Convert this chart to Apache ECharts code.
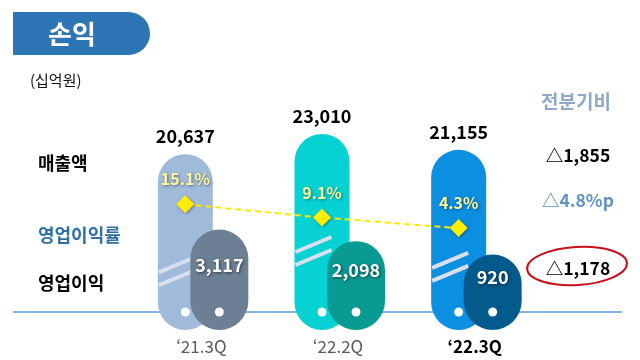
<!DOCTYPE html>
<html><head><meta charset="utf-8">
<script src="https://cdn.jsdelivr.net/npm/echarts@6/dist/echarts.min.js"></script>
<style>html,body{margin:0;padding:0;background:#fff}#c{width:640px;height:360px}</style>
</head><body><div id="c"></div>
<script>
const categories = ['‘21.3Q', '‘22.2Q', '‘22.3Q'];
const sales = [20637, 23010, 21155];
const opProfit = [3117, 2098, 920];
const opMargin = [15.1, 9.1, 4.3];
const rowLabels = ['매출액', '영업이익률', '영업이익'];
const qoqTitle = '전분기비';
const qoqValues = ['△1,855', '△4.8%p', '△1,178'];
const unitLabel = '(십억원)';
const titleText = '손익';

const salesColors = ['#A0BBDA', '#07D2D3', '#0C8FE0'];
const opColors = ['#6C7F94', '#0A9A94', '#045A8D'];
const FONT = '"Noto Sans CJK KR", "Noto Sans", sans-serif';
const fmt = v => v.toLocaleString('en-US');

const chart = echarts.init(document.getElementById('c'));

function breakMarks(x0, yc) {
  const len = 36, items = [];
  [-6.5, 6.5].forEach(d => {
    items.push({type: 'line', shape: {x1: x0, y1: yc + d + 7.5, x2: x0 + len, y2: yc + d - 7.5},
      style: {stroke: '#D9DFEE', lineWidth: 4}});
  });
  return items;
}

function salesItem(params, api) {
  const i = api.value(0);
  const c = api.coord([i, api.value(1)]);
  const cs = params.coordSys;
  const bottom = cs.y + cs.height;
  const w = 55, cx = c[0] - 16, top = c[1];
  return {type: 'group', children: [
    {type: 'rect', shape: {x: cx - w / 2, y: top, width: w, height: bottom - top, r: w / 2},
      style: {fill: salesColors[i]}},
    ...breakMarks(cx - w / 2 + 1, top + 117),
    {type: 'circle', shape: {cx: cx, cy: bottom - 18, r: 4.5}, style: {fill: '#fff'}},
    {type: 'text', style: {x: cx, y: top - 18, text: fmt(api.value(1)), align: 'center', verticalAlign: 'middle',
      font: 'bold 18px ' + FONT, fill: '#000'}}
  ]};
}

function opItem(params, api) {
  const i = api.value(0);
  const c = api.coord([i, api.value(1)]);
  const cs = params.coordSys;
  const bottom = cs.y + cs.height;
  const w = 58, cx = c[0] + 18, top = c[1];
  return {type: 'group', children: [
    {type: 'rect', shape: {x: cx - w / 2, y: top, width: w, height: bottom - top, r: w / 2},
      style: {fill: opColors[i]}},
    {type: 'circle', shape: {cx: cx, cy: bottom - 18, r: 4.5}, style: {fill: '#fff'}},
    {type: 'text', style: {x: cx, y: (top + 300) / 2, text: fmt(api.value(1)), align: 'center', verticalAlign: 'middle',
      font: 'bold 18px ' + FONT, fill: '#fff', textShadowColor: 'rgba(0,0,0,0.55)', textShadowBlur: 3, textShadowOffsetX: 1, textShadowOffsetY: 1}}
  ]};
}

const option = {
  animation: false,
  grid: [
    {left: 133, width: 410, top: 60, bottom: 30},
    {left: 117, width: 410, top: 60, bottom: 30}
  ],
  xAxis: [
    {type: 'category', gridIndex: 0, data: categories, axisLine: {show: false}, axisTick: {show: false},
      axisLabel: {margin: 8, formatter: (v, i) => i === 2 ? '{b|' + v + '}' : '{n|' + v + '}',
        rich: {n: {fontFamily: FONT, fontSize: 17, color: '#595959'}, b: {fontFamily: FONT, fontSize: 17, fontWeight: 'bold', color: '#000'}}}},
    {type: 'category', gridIndex: 1, data: categories, show: false}
  ],
  yAxis: [
    {type: 'value', gridIndex: 0, min: 0, max: 31700, show: false},
    {type: 'value', gridIndex: 0, min: -5700, max: 18000, show: false},
    {type: 'value', gridIndex: 1, min: -42, max: 80.7, show: false}
  ],
  graphic: [
    {type: 'rect', shape: {x: 13, y: 12, width: 137, height: 43, r: [0, 22, 22, 0]}, style: {fill: '#2E75B6'}},
    {type: 'text', style: {x: 72, y: 34, text: titleText, align: 'center', verticalAlign: 'middle', font: 'bold 26px ' + FONT, fill: '#fff'}},
    {type: 'text', style: {x: 30, y: 80, text: unitLabel, verticalAlign: 'middle', font: '15px ' + FONT, fill: '#111'}},
    {type: 'text', style: {x: 38, y: 163, text: rowLabels[0], verticalAlign: 'middle', font: 'bold 18px ' + FONT, fill: '#000'}},
    {type: 'text', style: {x: 38, y: 235, text: rowLabels[1], verticalAlign: 'middle', font: 'bold 18px ' + FONT, fill: '#2F6FA8'}},
    {type: 'text', style: {x: 38, y: 283, text: rowLabels[2], verticalAlign: 'middle', font: 'bold 18px ' + FONT, fill: '#000'}},
    {type: 'line', shape: {x1: 13, y1: 312, x2: 622, y2: 312}, style: {stroke: '#5B9BD5', lineWidth: 1.5}, z: -1},
    {type: 'text', style: {x: 576, y: 102, text: qoqTitle, align: 'center', verticalAlign: 'middle', font: 'bold 19px ' + FONT, fill: '#8EA9C9'}},
    {type: 'text', style: {x: 578, y: 155, text: qoqValues[0], align: 'center', verticalAlign: 'middle', font: 'bold 17.5px ' + FONT, fill: '#000'}},
    {type: 'text', style: {x: 578, y: 200, text: qoqValues[1], align: 'center', verticalAlign: 'middle', font: 'bold 17.5px ' + FONT, fill: '#5F93C3'}},
    {type: 'text', style: {x: 578, y: 268, text: qoqValues[2], align: 'center', verticalAlign: 'middle', font: 'bold 17.5px ' + FONT, fill: '#000'}},
    {type: 'ellipse', shape: {cx: 577, cy: 266, rx: 50, ry: 19}, rotation: 0.06, originX: 577, originY: 266,
      style: {fill: 'none', stroke: '#C8101C', lineWidth: 2}}
  ],
  series: [
    {type: 'custom', xAxisIndex: 0, yAxisIndex: 0, renderItem: salesItem, data: sales.map((v, i) => [i, v]), z: 2},
    {type: 'custom', xAxisIndex: 0, yAxisIndex: 1, renderItem: opItem, data: opProfit.map((v, i) => [i, v]), z: 3},
    {type: 'line', xAxisIndex: 1, yAxisIndex: 2, data: opMargin, z: 5,
      symbol: 'diamond', symbolSize: 18,
      itemStyle: {color: '#FFEE00', shadowColor: 'rgba(0,0,0,0.35)', shadowBlur: 3, shadowOffsetX: 1, shadowOffsetY: 1},
      lineStyle: {color: '#FFE800', width: 2, type: [6, 4]},
      label: {show: true, position: 'top', distance: 8, formatter: p => p.value + '%',
        fontFamily: FONT, fontSize: 16, fontWeight: 'bold', color: '#FFF59A',
        textShadowColor: 'rgba(0,0,0,0.45)', textShadowBlur: 3, textShadowOffsetX: 1, textShadowOffsetY: 1}}
  ]
};
chart.setOption(option);
</script></body></html>
